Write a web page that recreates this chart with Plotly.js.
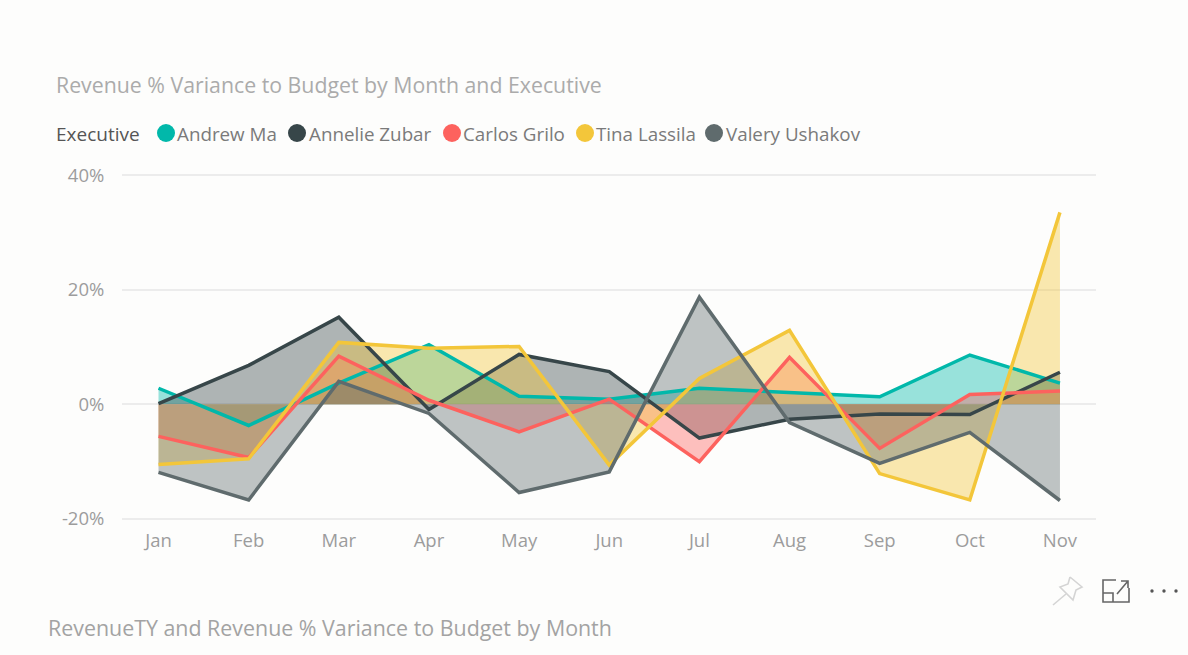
<!DOCTYPE html>
<html>
<head>
<meta charset="utf-8">
<script src="https://cdn.plot.ly/plotly-3.0.1.min.js"></script>
<style>html,body{margin:0;padding:0;background:#fdfdfc}</style>
</head>
<body>
<div id="chart" style="width:1188px;height:655px"></div>
<script>
const months = ['Jan','Feb','Mar','Apr','May','Jun','Jul','Aug','Sep','Oct','Nov'];
const andrewMa = [2.8,-3.7,3.7,10.4,1.4,0.9,2.8,2.1,1.3,8.6,3.7];
const annelieZubar = [0.1,6.8,15.2,-0.9,8.7,5.7,-5.9,-2.6,-1.7,-1.8,5.6];
const carlosGrilo = [-5.6,-9.3,8.4,0.7,-4.8,0.9,-10,8.2,-7.7,1.7,2.3];
const tinaLassila = [-10.5,-9.5,10.8,9.8,10.1,-10.6,4.5,12.9,-12.1,-16.7,33.5];
const valeryUshakov = [-11.9,-16.7,4,-1.6,-15.4,-11.8,18.7,-3.2,-10.3,-4.9,-16.8];
const executives = ['Andrew Ma','Annelie Zubar','Carlos Grilo','Tina Lassila','Valery Ushakov'];
const colors = ['#01B8AA','#374649','#FD625E','#F3C63A','#5F6B6D'];
const fills = ['rgba(1,184,170,0.4)','rgba(55,70,73,0.4)','rgba(253,98,94,0.4)','rgba(243,198,58,0.4)','rgba(95,107,109,0.4)'];
const series = [andrewMa, annelieZubar, carlosGrilo, tinaLassila, valeryUshakov];
const FONT = '"Open Sans", "Noto Sans", sans-serif';

const L = 122, R = 1096, T = 174, B = 520;
const px = x => (x - L) / (R - L);
const py = y => (B - y) / (B - T);
const pathOf = pts => pts.map((p, i) => (i ? 'L' : 'M') + px(p[0]) + ',' + py(p[1])).join(' ');

const fillTraces = series.map((vals, i) => ({
  type: 'scatter', mode: 'none', name: executives[i], x: months, y: vals,
  fill: 'tozeroy', fillcolor: fills[i], showlegend: false
}));
const lineTraces = series.map((vals, i) => ({
  type: 'scatter', mode: 'lines', name: executives[i], x: months, y: vals,
  line: {color: colors[i], width: 3.5, shape: 'linear'}, showlegend: false
}));

const annotation = (text, x, y, size, color) => ({
  text, x: px(x), y: py(y), xref: 'paper', yref: 'paper', xanchor: 'left', yanchor: 'middle',
  showarrow: false, font: {family: FONT, size, color}, borderpad: 0, borderwidth: 0
});
const legendCircleX = [166, 297, 452, 585, 714];
const legendTextX = [177, 309, 463, 596, 726];
const annotations = [
  annotation('Revenue % Variance to Budget by Month and Executive', 56, 84, 21.3, '#ababab'),
  annotation('RevenueTY and Revenue % Variance to Budget by Month', 48, 627, 21.4, '#a3a3a3'),
  annotation('Executive', 56, 133.5, 19, '#555555')
];
executives.forEach((n, i) => annotations.push(annotation(n, legendTextX[i], 133.5, 18.8, '#7a7a7a')));

const shapes = [];
legendCircleX.forEach((cx, i) => shapes.push({
  type: 'circle', xref: 'paper', yref: 'paper',
  x0: px(cx - 9), x1: px(cx + 9), y0: py(142), y1: py(124),
  fillcolor: colors[i], line: {width: 0}
}));
const iconLine = {color: '#666666', width: 1.6};
// expand icon
shapes.push({type: 'path', xref: 'paper', yref: 'paper', line: iconLine,
  path: pathOf([[1116,580],[1103,580],[1103,602],[1129,602],[1129,588]])});
shapes.push({type: 'path', xref: 'paper', yref: 'paper', line: iconLine,
  path: pathOf([[1103,593],[1113,593],[1113,602]])});
shapes.push({type: 'path', xref: 'paper', yref: 'paper', line: iconLine,
  path: pathOf([[1117,594],[1128,581]]) + ' ' + pathOf([[1121,581],[1128,581],[1128,588]])});
// pin icon
const pinLine = {color: '#d4d4d4', width: 1.6};
shapes.push({type: 'path', xref: 'paper', yref: 'paper', line: pinLine,
  path: pathOf([[1070,577],[1082,587],[1076,590],[1073,600],[1060,587],[1068,584],[1070,577]])});
shapes.push({type: 'path', xref: 'paper', yref: 'paper', line: pinLine,
  path: pathOf([[1066,594],[1053,605]])});
// more dots
[1152, 1164, 1176].forEach(cx => shapes.push({
  type: 'circle', xref: 'paper', yref: 'paper',
  x0: px(cx - 1.7), x1: px(cx + 1.7), y0: py(592.7), y1: py(589.3),
  fillcolor: '#555555', line: {width: 0}
}));

const layout = {
  width: 1188, height: 655,
  paper_bgcolor: '#fdfdfc', plot_bgcolor: 'rgba(0,0,0,0)',
  margin: {l: L, r: 1188 - R, t: T, b: 655 - B, pad: 0},
  showlegend: false,
  xaxis: {
    type: 'category', range: [-0.405, 10.4], showgrid: false, zeroline: false, showline: false,
    tickfont: {family: FONT, size: 18.5, color: '#9c9c9c'},
    ticks: 'outside', ticklen: 4, tickcolor: 'rgba(0,0,0,0)', tickangle: 0
  },
  yaxis: {
    range: [-20.2, 40.2], tickvals: [-20, 0, 20, 40], ticktext: ['-20%', '0%', '20%', '40%'],
    gridcolor: '#ececec', gridwidth: 1.5, zeroline: false, showline: false,
    tickfont: {family: FONT, size: 18.5, color: '#9c9c9c'},
    ticks: 'outside', ticklen: 13, tickcolor: 'rgba(0,0,0,0)'
  },
  annotations, shapes
};
Plotly.newPlot('chart', fillTraces.concat(lineTraces), layout, {displayModeBar: false, responsive: false});
</script>
</body>
</html>
